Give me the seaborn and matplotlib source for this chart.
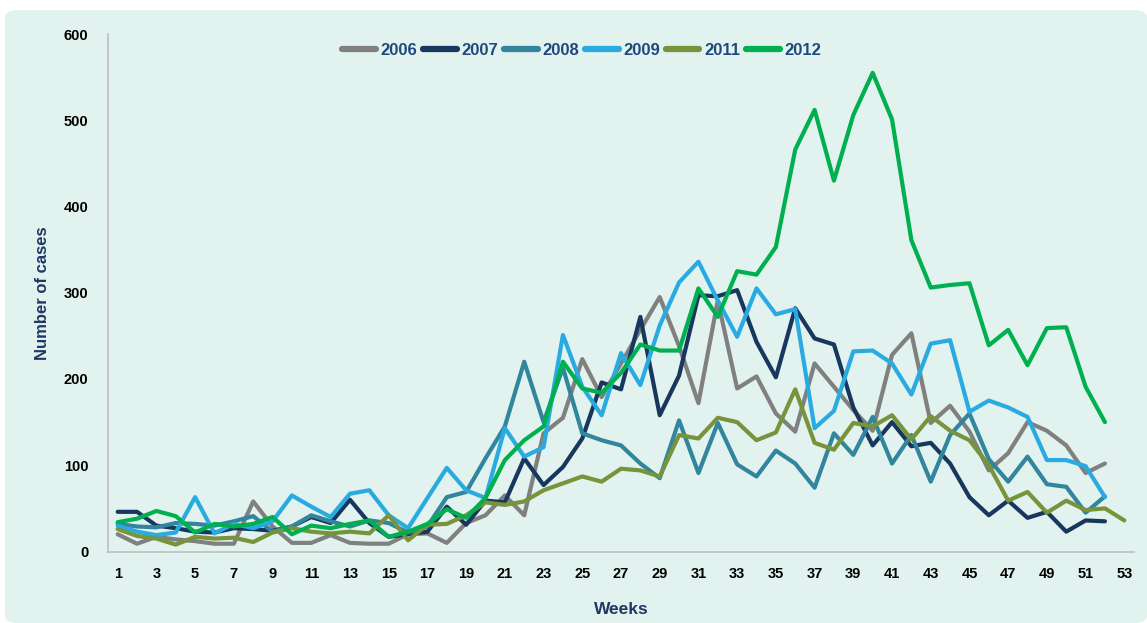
import matplotlib
matplotlib.use("Agg")
import matplotlib.pyplot as plt
import seaborn as sns
import pandas as pd
import numpy as np
from matplotlib.patches import FancyBboxPatch

weeks52 = list(range(1, 53))
weeks53 = list(range(1, 54))

y2006 = [20, 9, 17, 14, 12, 9, 9, 58, 29, 10, 10, 19, 10, 9, 9, 20, 21, 10, 33, 42,
         65, 42, 137, 155, 223, 179, 218, 257, 295, 238, 172, 291, 189, 203, 160, 139,
         218, 191, 164, 140, 228, 253, 149, 169, 139, 94, 114, 150, 140, 123, 91, 102]
y2007 = [46, 46, 30, 27, 23, 22, 27, 26, 24, 29, 40, 33, 60, 33, 17, 20, 23, 52, 31, 59,
         57, 108, 77, 98, 131, 196, 188, 272, 158, 204, 297, 296, 303, 243, 202, 282,
         247, 240, 167, 123, 150, 122, 126, 102, 63, 42, 59, 39, 46, 23, 36, 35]
y2008 = [32, 29, 28, 33, 32, 30, 35, 41, 23, 29, 42, 35, 29, 36, 33, 22, 29, 63, 69, 108,
         145, 220, 150, 213, 137, 129, 123, 102, 85, 152, 91, 149, 101, 87, 117, 102,
         74, 137, 112, 156, 102, 135, 81, 135, 160, 107, 81, 110, 78, 75, 45, 64]
y2009 = [30, 23, 19, 22, 63, 21, 32, 27, 35, 65, 52, 40, 67, 71, 42, 27, 62, 97, 71, 62,
         143, 110, 121, 251, 191, 158, 230, 193, 262, 312, 336, 291, 249, 305, 275, 281,
         143, 163, 232, 233, 218, 182, 241, 245, 162, 175, 167, 156, 106, 106, 99, 63]
y2011 = [26, 18, 15, 8, 17, 15, 16, 11, 22, 27, 23, 21, 23, 21, 42, 13, 31, 32, 42, 57,
         54, 58, 71, 79, 87, 81, 96, 94, 87, 135, 131, 155, 150, 129, 138, 188, 126,
         118, 149, 145, 158, 130, 157, 140, 129, 100, 59, 69, 45, 59, 48, 50, 36]
y2012 = [34, 38, 47, 41, 22, 32, 29, 32, 40, 20, 30, 27, 32, 36, 17, 23, 32, 49, 39, 62,
         106, 129, 145, 220, 189, 184, 207, 240, 233, 233, 305, 272, 325, 321, 353, 466,
         512, 430, 506, 555, 501, 361, 306, 309, 311, 239, 257, 216, 259, 260, 191, 150]

years = ["2006", "2007", "2008", "2009", "2011", "2012"]
colors = {"2006": "#808080", "2007": "#17375e", "2008": "#31859c",
          "2009": "#29abe2", "2011": "#77933c", "2012": "#00b050"}

frames = []
for yr, vals in zip(years, [y2006, y2007, y2008, y2009, y2011, y2012]):
    wk = weeks53 if len(vals) == 53 else weeks52
    frames.append(pd.DataFrame({"Week": wk, "Cases": vals, "Year": yr}))
df = pd.concat(frames, ignore_index=True)

sns.set_style("white")
plt.rcParams["font.family"] = ["Liberation Sans", "DejaVu Sans"]

bg = "#e2f2ee"
fig = plt.figure(figsize=(11.47, 6.23), dpi=100)
fig.patch.set_facecolor("white")
box = FancyBboxPatch((5 / 1147, 0), 1 - 5 / 1147, 1 - 10 / 623,
                     boxstyle="round,pad=0,rounding_size=0.012",
                     transform=fig.transFigure, facecolor=bg,
                     edgecolor="none", zorder=-10)
fig.patches.append(box)
ax = fig.add_axes([108 / 1147, 1 - 551.5 / 623, (1134 - 108) / 1147, (551.5 - 34) / 623])
ax.set_zorder(5)
ax.patch.set_alpha(0)

sns.lineplot(data=df, x="Week", y="Cases", hue="Year", hue_order=years,
             palette=colors, linewidth=3.0, ax=ax, legend=True)

ax.set_xlim(0.5, 53.5)
ax.set_ylim(0, 600)
ax.set_yticks(range(0, 601, 100))
ax.set_xticks(range(1, 54, 2))
ax.set_xticklabels([str(w) for w in range(1, 54, 2)])
ax.set_xticks(np.arange(0.5, 54.0, 1.0), minor=True)
ax.tick_params(axis="x", which="major", length=0, pad=11, labelsize=10.5, labelcolor="black")
ax.tick_params(axis="x", which="minor", length=5, color="#bfbfbf", width=1, direction="out")
ax.tick_params(axis="y", which="major", length=5, color="#bfbfbf", width=1, direction="out",
               labelsize=10.5, labelcolor="black", pad=9)
for lab in ax.get_xticklabels() + ax.get_yticklabels():
    lab.set_fontweight("bold")

for s in ["top", "right"]:
    ax.spines[s].set_visible(False)
for s in ["left", "bottom"]:
    ax.spines[s].set_color("#bfbfbf")
    ax.spines[s].set_linewidth(1.2)

ax.set_xlabel("Weeks", fontsize=12.5, fontweight="bold", color="#1f3864", labelpad=15)
ax.set_ylabel("Number of cases", fontsize=12, fontweight="bold", color="#1f3864", labelpad=10)

leg = ax.legend(loc="upper center", bbox_to_anchor=(0.462, 1.012), ncol=6, frameon=False,
                handlelength=2.0, handletextpad=0.3, columnspacing=0.35,
                prop={"weight": "bold", "size": 12})
for t in leg.get_texts():
    t.set_color("#1f497d")
for h in leg.get_lines():
    h.set_linewidth(4.5)

fig.savefig("out.png", dpi=100, facecolor=fig.get_facecolor())
